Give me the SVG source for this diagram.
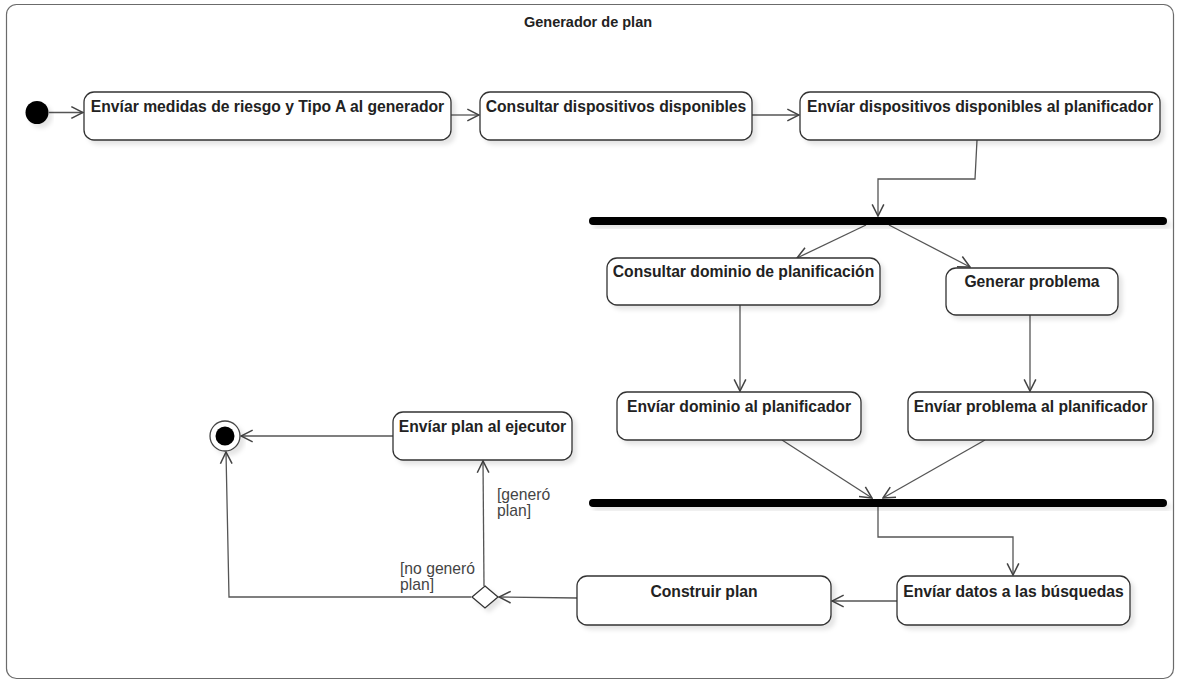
<svg xmlns="http://www.w3.org/2000/svg" width="1178" height="681" viewBox="0 0 1178 681">
  <style>
    .frame { fill: #ffffff; stroke: #6b6b6b; stroke-width: 1.2; }
    .title { font-family: "Liberation Sans", Arial, sans-serif; font-weight: bold; font-size: 14.5px; fill: #222; text-anchor: middle; }
    .act { fill: #ffffff; stroke: #333; stroke-width: 1.3; filter: url(#shadow); }
    .lbl { font-family: "Liberation Sans", Arial, sans-serif; font-weight: bold; font-size: 15.7px; fill: #222; text-anchor: middle; }
    .guard { font-family: "Liberation Sans", Arial, sans-serif; font-size: 15.7px; fill: #444; }
    .bar { fill: #000; filter: url(#shadow); }
    .edge { fill: none; stroke: #555; stroke-width: 1.3; marker-end: url(#open); }
  </style>
  <defs>
    <filter id="shadow" x="-10%" y="-20%" width="130%" height="160%">
      <feDropShadow dx="4" dy="4" stdDeviation="2" flood-color="#000" flood-opacity="0.1"/>
    </filter>
    <marker id="open" markerUnits="userSpaceOnUse" markerWidth="14" markerHeight="14" viewBox="0 0 12 12" refX="11" refY="6" orient="auto">
      <path d="M1,1 L11,6 L1,11" fill="none" stroke="#444" stroke-width="1.3"/>
    </marker>
  </defs>

  <!-- activity frame -->
  <rect class="frame" x="6.5" y="4.5" width="1167" height="674" rx="10"/>
  <text class="title" x="588" y="27">Generador de plan</text>

  <!-- connectors -->
  <g id="connectors">
    <line class="edge" x1="49" y1="112.5" x2="83" y2="112.5"/>
    <line class="edge" x1="451" y1="115" x2="479" y2="115"/>
    <line class="edge" x1="752" y1="115" x2="799" y2="115"/>
    <polyline class="edge" points="977,140 975,179 878,179 878,216"/>
    <line class="edge" x1="866" y1="225" x2="797" y2="258"/>
    <line class="edge" x1="889" y1="225" x2="970" y2="267"/>
    <line class="edge" x1="740" y1="305" x2="740" y2="391"/>
    <line class="edge" x1="1030" y1="315" x2="1030" y2="391"/>
    <line class="edge" x1="782" y1="440" x2="872" y2="498"/>
    <line class="edge" x1="985" y1="440" x2="883" y2="498"/>
    <polyline class="edge" points="878,507 878,537 1013,537 1013,575"/>
    <line class="edge" x1="897" y1="601" x2="832" y2="601"/>
    <line class="edge" x1="577" y1="598" x2="499" y2="597"/>
    <line class="edge" x1="484" y1="586" x2="483" y2="461"/>
    <polyline class="edge" points="471,597 229,597 226,452"/>
    <line class="edge" x1="393" y1="436" x2="241" y2="436"/>
  </g>

  <!-- guard labels -->
  <g id="guards">
    <text class="guard" x="497" y="500">[generó<tspan x="497" y="515.5">plan]</tspan></text>
    <text class="guard" x="400" y="574">[no generó<tspan x="400" y="589.5">plan]</tspan></text>
  </g>

  <!-- nodes -->
  <g id="initial">
    <circle cx="37" cy="112.5" r="11.5" fill="#000" filter="url(#shadow)"/>
  </g>
  <g id="enviar-medidas">
    <rect class="act" x="84" y="92" width="367" height="48" rx="10"/>
    <text class="lbl" x="267.5" y="112">Envíar medidas de riesgo y Tipo A al generador</text>
  </g>
  <g id="consultar-dispositivos">
    <rect class="act" x="480" y="92" width="272" height="48" rx="10"/>
    <text class="lbl" x="616" y="112">Consultar dispositivos disponibles</text>
  </g>
  <g id="enviar-dispositivos">
    <rect class="act" x="800" y="92" width="360" height="48" rx="10"/>
    <text class="lbl" x="980" y="112">Envíar dispositivos disponibles al planificador</text>
  </g>
  <g id="fork">
    <rect class="bar" x="589" y="217" width="578" height="8" rx="4"/>
  </g>
  <g id="consultar-dominio">
    <rect class="act" x="607" y="258" width="273" height="47" rx="10"/>
    <text class="lbl" x="743.5" y="277">Consultar dominio de planificación</text>
  </g>
  <g id="generar-problema">
    <rect class="act" x="946" y="268" width="172" height="47" rx="10"/>
    <text class="lbl" x="1032" y="287">Generar problema</text>
  </g>
  <g id="enviar-dominio">
    <rect class="act" x="617" y="392" width="244" height="48" rx="10"/>
    <text class="lbl" x="739" y="412">Envíar dominio al planificador</text>
  </g>
  <g id="enviar-problema">
    <rect class="act" x="908" y="392" width="245" height="48" rx="10"/>
    <text class="lbl" x="1030.5" y="412">Envíar problema al planificador</text>
  </g>
  <g id="join">
    <rect class="bar" x="589" y="499" width="578" height="8" rx="4"/>
  </g>
  <g id="enviar-datos">
    <rect class="act" x="897" y="576" width="233" height="49" rx="10"/>
    <text class="lbl" x="1013.5" y="597">Envíar datos a las búsquedas</text>
  </g>
  <g id="construir-plan">
    <rect class="act" x="577" y="576" width="254" height="49" rx="10"/>
    <text class="lbl" x="704" y="597">Construir plan</text>
  </g>
  <g id="decision">
    <polygon points="485,586 498,597 485,608 472,597" fill="#fff" stroke="#333" stroke-width="1.3" filter="url(#shadow)"/>
  </g>
  <g id="enviar-plan">
    <rect class="act" x="393" y="412" width="179" height="48" rx="10"/>
    <text class="lbl" x="482.5" y="432">Envíar plan al ejecutor</text>
  </g>
  <g id="final">
    <circle cx="225" cy="436" r="15" fill="#fff" stroke="#444" stroke-width="1.3" filter="url(#shadow)"/>
    <circle cx="225" cy="436" r="9.5" fill="#000"/>
  </g>
</svg>
